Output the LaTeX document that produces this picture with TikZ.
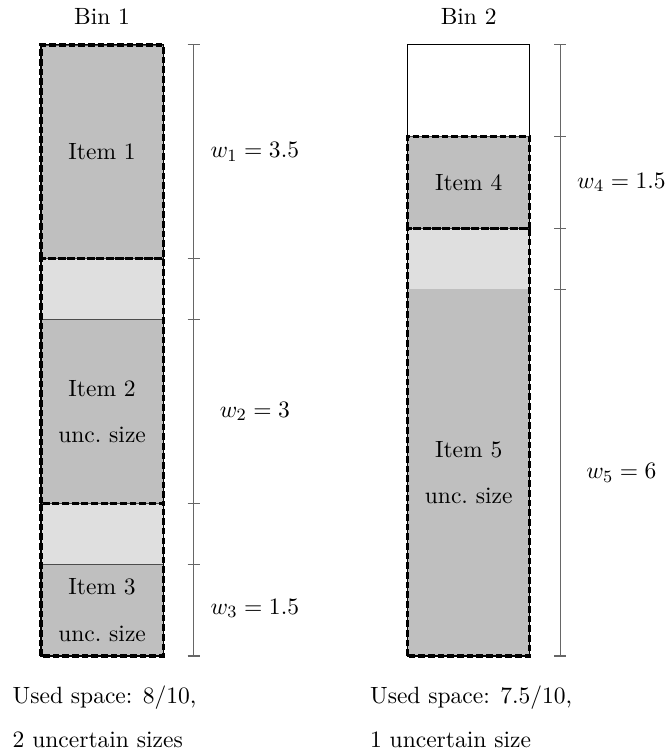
\documentclass[tikz,border=0pt,11pt]{standalone}
\begin{document}
\begin{tikzpicture}[x=1cm,y=1cm,
  darkbox/.style={fill=gray!50, draw=black!70, line width=0.4pt},
  lightbox/.style={fill=gray!25},
  itemborder/.style={draw=black, line width=1.5pt, dash pattern=on 3.1pt off 1.4pt},
  binbox/.style={draw=black, line width=0.5pt},
  ruler/.style={draw=black!60, line width=0.5pt},
  lbl/.style={inner sep=0pt, align=center},
  foot/.style={anchor=base west, inner sep=0pt}]
\useasboundingbox (-0.671,-1.637) rectangle (10.229,10.736);

% ---------- Bin 1 ----------
\fill[lightbox] (0,0) rectangle (2,2.5);
\fill[lightbox] (0,2.5) rectangle (2,6.5);
\draw[darkbox] (0,0) rectangle (2,1.5);
\draw[darkbox] (0,2.5) rectangle (2,5.5);
\draw[darkbox] (0,6.5) rectangle (2,10);
\draw[binbox] (0,0) rectangle (2,10);
\draw[itemborder] (0,0) rectangle (2,2.5);
\draw[itemborder] (0,2.5) rectangle (2,6.5);
\draw[itemborder] (0,6.5) rectangle (2,10);

\node[lbl] (it1) at (1,8.25) {Item 1};
\node[lbl] (it2) at (1,4.0) {Item 2\\[8pt]unc.\ size};
\node[lbl] (it3) at (1,0.75) {Item 3\\[8pt]unc.\ size};

% ruler 1
\draw[ruler] (2.5,0) -- (2.5,10);
\foreach \y in {0,1.5,2.5,5.5,6.5,10}
  \draw[ruler] (2.4,\y) -- (2.6,\y);
\node[lbl] (w1) at (3.5,8.25) {$w_1 = 3.5$};
\node[lbl] (w2) at (3.5,4.0) {$w_2 = 3$};
\node[lbl] (w3) at (3.5,0.78) {$w_3 = 1.5$};

\node (b1) at (1,10.46) {Bin 1};
\node[foot] (u1) at (-0.47,-0.77) {Used space: $8/10$,};
\node[foot] (c1) at (-0.47,-1.49) {2 uncertain sizes};

% ---------- Bin 2 ----------
\fill[lightbox] (6,0) rectangle (8,7);
\fill[gray!50] (6,0) rectangle (8,6);
\draw[darkbox] (6,7) rectangle (8,8.5);
\draw[binbox] (6,0) rectangle (8,10);
\draw[itemborder] (6,0) rectangle (8,7);
\draw[itemborder] (6,7) rectangle (8,8.5);

\node[lbl] (it4) at (7,7.75) {Item 4};
\node[lbl] (it5) at (7,3.0) {Item 5\\[8pt]unc.\ size};

% ruler 2
\draw[ruler] (8.5,0) -- (8.5,10);
\foreach \y in {0,6,7,8.5,10}
  \draw[ruler] (8.4,\y) -- (8.6,\y);
\node[lbl] (w4) at (9.5,7.75) {$w_4 = 1.5$};
\node[lbl] (w5) at (9.5,3.0) {$w_5 = 6$};

\node (b2) at (7,10.46) {Bin 2};
\node[foot] (u2) at (5.38,-0.77) {Used space: $7.5/10$,};
\node[foot] (c2) at (5.38,-1.49) {1 uncertain size};
\end{tikzpicture}
\end{document}
